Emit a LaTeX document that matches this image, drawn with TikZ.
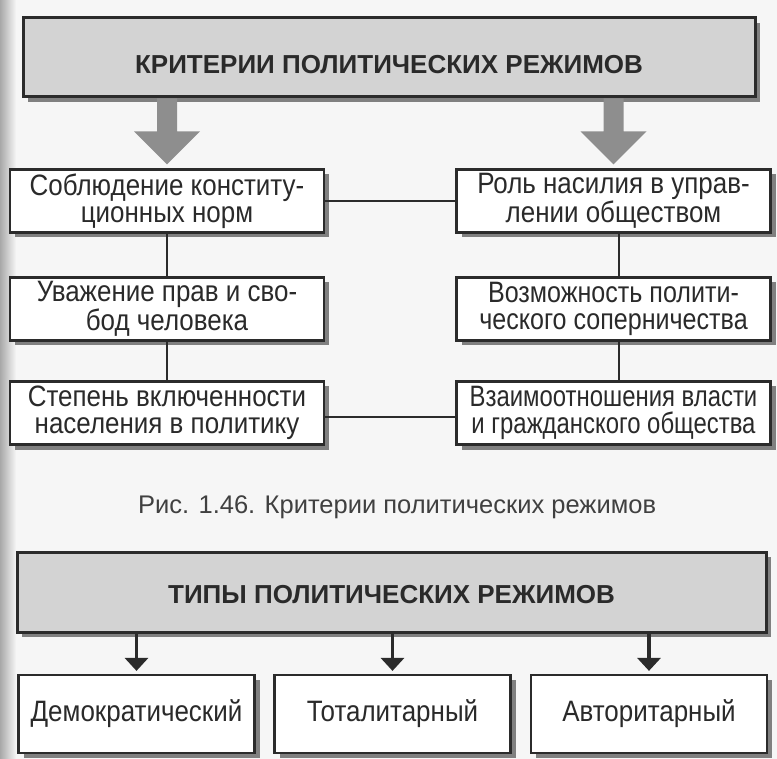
\documentclass[tikz,border=0pt]{standalone}
\usepackage{fontspec}
\setmainfont{Liberation Sans}
\newfontfamily\boxfont{Liberation Sans}[FakeStretch=0.88]
\newfontfamily\boxfontb{Liberation Sans}[FakeStretch=0.85]
\newfontfamily\boxfontc{Liberation Sans}[FakeStretch=0.81]
\usetikzlibrary{shadows,arrows.meta,calc}
\definecolor{bgcol}{HTML}{F6F6F6}
\definecolor{edgecol}{HTML}{A8A8A8}
\definecolor{linecol}{HTML}{2B2B2B}
\definecolor{headfill}{HTML}{D3D3D3}
\definecolor{shadowcol}{HTML}{808080}
\definecolor{arrowfill}{HTML}{8E8E8E}
\definecolor{textcol}{HTML}{2A2A2A}
\definecolor{captcol}{HTML}{404040}
\begin{document}
\begin{tikzpicture}[x=1pt,y=-1pt,
  boxshadow/.style={drop shadow={shadow xshift=5pt, shadow yshift=-5pt, opacity=1, fill=shadowcol}},
  critbox/.style={draw=linecol, line width=2.2pt, fill=white, minimum width=314pt,
    minimum height=63pt, inner sep=0pt, align=center, text=textcol,
    font=\boxfont\fontsize{29.5}{27.5}\selectfont, boxshadow},
  headbox/.style={draw=linecol, line width=3pt, fill=headfill, inner sep=0pt,
    text=textcol, font=\fontsize{26}{28}\selectfont\bfseries, text depth=0pt, boxshadow},
  typebox/.style={critbox, minimum width=236pt, minimum height=78pt},
  conn/.style={draw=linecol, line width=2pt},
  bigarrow/.style={fill=arrowfill},
  smallarrow/.style={draw=linecol, line width=3.5pt, -{Triangle[width=23pt,length=13pt]}, shorten >=3pt}
]
\fill[bgcol] (0,0) rectangle (777,759);
\shade[left color=edgecol, right color=bgcol] (0,0) rectangle (16,759);
\useasboundingbox (0,0) rectangle (777,759);

% top title
\node[headbox, minimum width=732pt, minimum height=79pt, text height=33pt] (t1) at (389,57.5) {КРИТЕРИИ ПОЛИТИЧЕСКИХ РЕЖИМОВ};

% criteria boxes
\node[critbox] (L1) at (167,201) {Соблюдение конститу-\\ционных норм};
\node[critbox] (R1) at (613.5,201) {Роль насилия в управ-\\лении обществом};
\node[critbox] (L2) at (167,309) {Уважение прав и сво-\\бод человека};
\node[critbox, font=\boxfontb\fontsize{29.5}{27.5}\selectfont] (R2) at (613.5,309) {Возможность полити-\\ческого соперничества};
\node[critbox] (L3) at (167,413) {Степень включенности\\населения в политику};
\node[critbox, font=\boxfontc\fontsize{29.5}{27.5}\selectfont] (R3) at (613.5,413) {Взаимоотношения власти\\и гражданского общества};

% big arrows
\coordinate (tipL) at ([yshift=4pt]L1.north);
\coordinate (tipR) at ([yshift=4pt]R1.north);
\fill[bigarrow] (tipL) -- ++(33,-33) -- ++(-23,0) |- ([xshift=-10pt]t1.south -| L1.north)
  -- ($(tipL)+(-10,-33)$) -- ++(-23,0) -- cycle;
\fill[bigarrow] (tipR) -- ++(33,-33) -- ++(-23,0) |- ([xshift=-10pt]t1.south -| R1.north)
  -- ($(tipR)+(-10,-33)$) -- ++(-23,0) -- cycle;

% connectors
\draw[conn] (L1) -- (R1);
\draw[conn] (L1) -- (L2);
\draw[conn] (L2) -- (L3);
\draw[conn] ([xshift=5pt]R1.south) -- ([xshift=5pt]R2.north);
\draw[conn] ([xshift=5pt]R2.south) -- ([xshift=5pt]R3.north);
\draw[conn] ([yshift=-4pt]L3.east) -- ([yshift=-4pt]R3.west);

% caption
\node[anchor=base, font=\fontsize{25.5}{28}\selectfont, text=captcol, inner sep=0pt] (cap) at (397,513) {Рис. 1.46. Критерии политических режимов};

% bottom title
\node[headbox, minimum width=749pt, minimum height=80pt, text height=22pt] (t2) at (391.5,592) {ТИПЫ ПОЛИТИЧЕСКИХ РЕЖИМОВ};

\node[typebox] (A) at (136.5,714) {Демократический};
\node[typebox] (B) at (392.5,714) {Тоталитарный};
\node[typebox] (C) at (649,714) {Авторитарный};

\draw[smallarrow] (t2.south -| A.north) -- (A.north);
\draw[smallarrow] (t2.south -| B.north) -- (B.north);
\draw[smallarrow] (t2.south -| C.north) -- (C.north);
\end{tikzpicture}
\end{document}
